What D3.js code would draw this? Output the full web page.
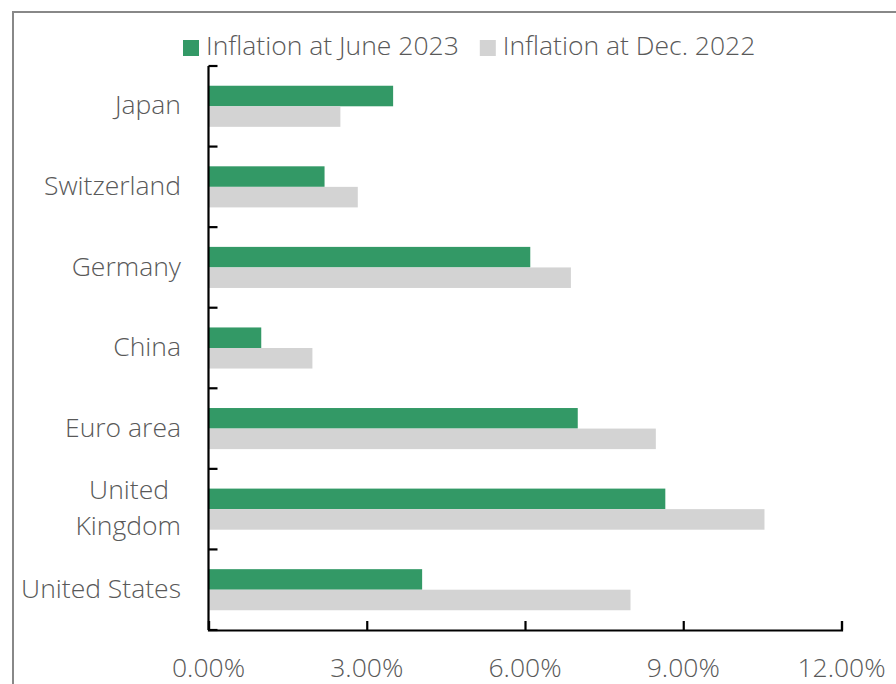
<!DOCTYPE html>
<html>
<head>
<meta charset="utf-8">
<script src="https://cdn.jsdelivr.net/npm/d3@7"></script>
<style>
  html, body { margin: 0; padding: 0; background: #ffffff; }
  svg { display: block; }
  text { font-family: "Open Sans", sans-serif; font-weight: 300; fill: #595959; }
</style>
</head>
<body>
<svg id="chart" width="896" height="684"></svg>
<script>
// Economies, listed top to bottom
const countries = ["Japan", "Switzerland", "Germany", "China", "Euro area", "United Kingdom", "United States"];
// Inflation rates, in percent
const june2023 = [3.5, 2.2, 6.1, 1.0, 7.0, 8.66, 4.05];
const dec2022  = [2.5, 2.83, 6.87, 1.97, 8.48, 10.54, 8.0];
const seriesNames = ["Inflation at June 2023", "Inflation at Dec. 2022"];
const seriesColors = ["#339966", "#d3d3d3"];
const xTicks = [0, 3, 6, 9, 12];

const svg = d3.select("#chart");
const W = 896, H = 684;
const margin = { left: 208.5, right: 54.5, top: 66, bottom: 54 };
const FS = 26.5;

// chart frame (runs past the right and bottom edges)
svg.append("rect")
  .attr("x", 13).attr("y", 12)
  .attr("width", 920).attr("height", 720)
  .attr("fill", "none").attr("stroke", "#888888").attr("stroke-width", 2);

const x = d3.scaleLinear().domain([0, 12]).range([margin.left, W - margin.right]);
const yOuter = d3.scaleBand().domain(countries)
  .range([margin.top, H - margin.bottom])
  .paddingInner(0.49).paddingOuter(0.245);
const yInner = d3.scaleBand().domain([0, 1]).range([0, yOuter.bandwidth()]);

const rows = countries.map((c, i) => ({ c, vals: [june2023[i], dec2022[i]] }));

const g = svg.append("g");
const groups = g.selectAll("g.row").data(rows).join("g")
  .attr("class", "row")
  .attr("transform", d => `translate(0,${yOuter(d.c)})`);

groups.selectAll("rect").data(d => d.vals.map((v, k) => ({ v, k }))).join("rect")
  .attr("x", x(0))
  .attr("y", d => yInner(d.k))
  .attr("width", d => x(d.v) - x(0))
  .attr("height", yInner.bandwidth())
  .attr("fill", d => seriesColors[d.k]);

// x axis with inward ticks
const xAxis = d3.axisBottom(x).tickValues(xTicks).tickSize(-9).tickFormat(() => "");
const gx = svg.append("g")
  .attr("transform", `translate(0,${H - margin.bottom})`)
  .call(xAxis);
gx.select(".domain").attr("stroke", "#000").attr("stroke-width", 2.2);
gx.selectAll(".tick line").attr("stroke", "#000").attr("stroke-width", 2.2);

svg.append("g").selectAll("text").data(xTicks).join("text")
  .attr("x", d => x(d))
  .attr("y", 670)
  .attr("text-anchor", "middle")
  .attr("dominant-baseline", "middle")
  .attr("font-size", FS)
  .text(d => d3.format(".2f")(d) + "%");

// y axis: line plus ticks at category boundaries
const step = yOuter.step();
const boundaries = d3.range(countries.length + 1).map(i => margin.top + i * step);
svg.append("line")
  .attr("x1", x(0)).attr("x2", x(0))
  .attr("y1", margin.top).attr("y2", H - margin.bottom)
  .attr("stroke", "#000").attr("stroke-width", 2.2);
svg.append("g").selectAll("line").data(boundaries).join("line")
  .attr("x1", x(0)).attr("x2", x(0) + 9)
  .attr("y1", d => d).attr("y2", d => d)
  .attr("stroke", "#000").attr("stroke-width", 2.2);

// category labels
const catLabels = svg.append("g").selectAll("text").data(countries).join("text")
  .attr("text-anchor", "end")
  .attr("font-size", FS)
  .attr("dominant-baseline", "middle")
  .attr("y", d => yOuter(d) + yOuter.bandwidth() / 2 + 1);
catLabels.each(function (d) {
  const t = d3.select(this);
  if (d === "United Kingdom") {
    t.append("tspan").attr("x", 169).attr("dy", -18).text("United");
    t.append("tspan").attr("x", 181).attr("dy", 36).text("Kingdom");
  } else {
    t.attr("x", 181).text(d);
  }
});

// legend
const legend = svg.append("g").attr("transform", "translate(0,48)");
let lx = 183;
seriesNames.forEach((name, k) => {
  legend.append("rect")
    .attr("x", lx).attr("y", -8)
    .attr("width", 16).attr("height", 16)
    .attr("fill", seriesColors[k]);
  const t = legend.append("text")
    .attr("x", lx + 23).attr("y", 0)
    .attr("dominant-baseline", "middle")
    .attr("font-size", FS)
    .text(name);
  lx += 23 + t.node().getComputedTextLength() + 21;
});
</script>
</body>
</html>
